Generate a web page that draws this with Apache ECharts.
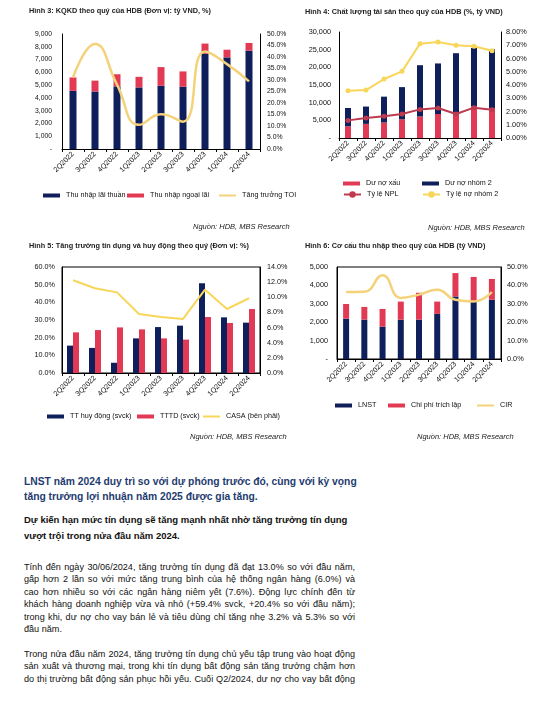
<!DOCTYPE html>
<html><head><meta charset="utf-8">
<script src="https://cdn.jsdelivr.net/npm/echarts@6/dist/echarts.min.js"></script>
<style>
body{margin:0;background:#fff;width:555px;height:707px;overflow:hidden;position:relative;font-family:'Liberation Sans',Arial,sans-serif;}
#c{position:absolute;left:0;top:0;width:555px;height:450px;}
.l{position:absolute;left:24px;width:331px;white-space:nowrap;color:#111;}
.j{text-align:justify;text-align-last:justify;white-space:normal;}
.h1{font-weight:bold;color:#1F3C70;font-size:10.3px;line-height:14px;}
.h2{font-weight:bold;font-size:9.5px;line-height:13px;}
.p{font-size:9.1px;line-height:12px;}
</style></head><body>
<div id="c"></div>
<div class="l h1" style="top:475px">LNST năm 2024 duy trì so với dự phóng trước đó, cùng với kỳ vọng</div>
<div class="l h1" style="top:490px">tăng trưởng lợi nhuận năm 2025 được gia tăng.</div>
<div class="l h2" style="top:513px">Dự kiến hạn mức tín dụng sẽ tăng mạnh nhất nhờ tăng trưởng tín dụng</div>
<div class="l h2" style="top:529px">vượt trội trong nửa đầu năm 2024.</div>
<div class="l p j" style="top:561px">Tính đến ngày 30/06/2024, tăng trưởng tín dụng đã đạt 13.0% so với đầu năm,</div>
<div class="l p j" style="top:573.4px">gấp hơn 2 lần so với mức tăng trung bình của hệ thống ngân hàng (6.0%) và</div>
<div class="l p j" style="top:585.8px">cao hơn nhiều so với các ngân hàng niêm yết (7.6%). Động lực chính đến từ</div>
<div class="l p j" style="top:598.2px">khách hàng doanh nghiệp vừa và nhỏ (+59.4% svck, +20.4% so với đầu năm);</div>
<div class="l p j" style="top:610.6px">trong khi, dư nợ cho vay bán lẻ và tiêu dùng chỉ tăng nhẹ 3.2% và 5.3% so với</div>
<div class="l p" style="top:623px">đầu năm.</div>
<div class="l p j" style="top:648px">Trong nửa đầu năm 2024, tăng trưởng tín dụng chủ yếu tập trung vào hoạt động</div>
<div class="l p j" style="top:660.4px">sản xuất và thương mại, trong khi tín dụng bất động sản tăng trưởng chậm hơn</div>
<div class="l p j" style="top:672.8px">do thị trường bất động sản phục hồi yếu. Cuối Q2/2024, dư nợ cho vay bất động</div>
<script>
const categories = ['2Q2022','3Q2022','4Q2022','1Q2023','2Q2023','3Q2023','4Q2023','1Q2024','2Q2024'];
// Chart 1 (tỷ VND, %)
const netInterestIncome = [4550, 4500, 4900, 4820, 4950, 4870, 7460, 7170, 7700];
const nonInterestIncome = [1050, 850, 950, 830, 1460, 1200, 790, 600, 600];
const toiGrowth = [31.1, 45.6, 28.0, 10.5, 15.1, 11.9, 42.4, 36.9, 29.4];
// Chart 2
const badDebt = [3300, 4000, 4400, 5300, 6100, 6800, 7200, 9000, 8500];
const group2Debt = [5200, 4900, 7300, 9100, 14500, 14300, 16800, 16500, 16600];
const nplRatio = [1.33, 1.51, 1.64, 1.81, 2.16, 2.26, 1.81, 2.29, 2.14];
const group2Ratio = [3.57, 3.62, 4.45, 5.03, 7.12, 7.25, 7.00, 6.92, 6.59];
// Chart 3 (%)
const depositGrowth = [15.5, 14.2, 5.8, 19.6, 26.0, 26.8, 50.8, 31.5, 28.5];
const creditGrowth = [23.0, 24.3, 25.8, 24.7, 19.6, 18.9, 31.7, 28.3, 36.2];
const casa = [12.25, 11.2, 10.65, 7.8, 7.4, 7.14, 11.0, 8.45, 9.87];
// Chart 4
const profitAfterTax = [2190, 2140, 1760, 2140, 2140, 2450, 3400, 3100, 3220];
const provisionCost = [800, 690, 960, 980, 1460, 670, 1270, 1360, 1130];
const cir = [36.4, 36.5, 45.5, 33.2, 35.0, 37.7, 32.2, 31.3, 36.4];

const NAVY = '#0E1F5B', RED = '#E23A55', YEL = '#F4D27A', YEL2 = '#F7D65A', DRED = '#BE3A4E';
const FONT = "'Liberation Sans', Arial, sans-serif";
const comma = v => v === 0 ? '-' : v.toLocaleString('en-US');
const pct = d => v => v.toFixed(d) + '%';

function yAxis(grid, max, interval, fmt, pos, margin, fs) {
  return {type:'value', gridIndex:grid, min:0, max:max, interval:interval, position:pos,
    axisLine:{show:true, lineStyle:{color:'#000', width:1}}, axisTick:{show:false}, splitLine:{show:false},
    axisLabel:{formatter:fmt, fontSize:fs, color:'#111', margin:margin, fontFamily:FONT}};
}
function xAxis(grid, fs) {
  return {type:'category', gridIndex:grid, data:categories,
    axisLine:{lineStyle:{color:'#000', width:1}}, axisTick:{show:true, length:3, lineStyle:{color:'#000'}},
    axisLabel:{rotate:45, fontSize:fs, color:'#111', margin:4, interval:0, fontFamily:FONT}};
}
// kind: 'bar' (rect), 'line' (plain line), 'mark' (line with marker)
function leg(name, left, top, kind) {
  const o = {data:[name], left:left, top:top, itemWidth:17, itemGap:0, padding:0,
    textStyle:{fontSize:7.2, color:'#111', fontFamily:FONT, padding:[0,0,0,1]}, selectedMode:false};
  if (kind === 'mark') { o.itemHeight = 8; }
  else if (kind === 'line') { o.icon = 'rect'; o.itemHeight = 2; }
  else { o.icon = 'rect'; o.itemHeight = 4; }
  return o;
}
const titleStyle = {fontSize:7.3, fontWeight:'bold', fill:'#222', fontFamily:FONT};
const srcStyle = {fontSize:7.5, fontStyle:'italic', fill:'#222', fontFamily:FONT};
function txt(x, y, s, st) { return {type:'text', left:x, top:y, style:Object.assign({text:s}, st)}; }

const option = {
  animation:false,
  textStyle:{fontFamily:FONT},
  grid:[
    {left:62, top:34, width:198, height:115},
    {left:339, top:32, width:162, height:106},
    {left:62, top:267, width:198, height:106, show:true, borderColor:'#000', borderWidth:1},
    {left:337, top:267, width:164, height:92, show:true, borderColor:'#000', borderWidth:1}
  ],
  xAxis:[xAxis(0,7.2), xAxis(1,7.2), xAxis(2,7.2), xAxis(3,7.2)],
  yAxis:[
    yAxis(0, 9000, 1000, comma, 'left', 10, 6.8),
    yAxis(0, 50, 5, pct(1), 'right', 7, 6.8),
    yAxis(1, 30000, 5000, comma, 'left', 8, 7.3),
    yAxis(1, 8, 1, pct(2), 'right', 5, 7.3),
    yAxis(2, 60, 10, pct(1), 'left', 7, 7.2),
    yAxis(2, 14, 2, pct(1), 'right', 7, 7.2),
    yAxis(3, 5000, 1000, comma, 'left', 9, 7.3),
    yAxis(3, 50, 10, pct(1), 'right', 6, 7.3)
  ],
  legend:[
    leg('Thu nhập lãi thuần', 43, 192, 'bar'),
    leg('Thu nhập ngoại lãi', 127, 192, 'bar'),
    leg('Tăng trưởng TOI', 219, 192, 'line'),
    leg('Dư nợ xấu', 343, 180, 'bar'),
    leg('Dư nợ nhóm 2', 422, 180, 'bar'),
    leg('Tỷ lệ NPL', 343, 191, 'mark'),
    leg('Tỷ lệ nợ nhóm 2', 422, 191, 'mark'),
    leg('TT huy động (svck)', 47, 413, 'bar'),
    leg('TTTD (svck)', 137, 413, 'bar'),
    leg('CASA (bên phải)', 203, 413, 'line'),
    leg('LNST', 335, 402, 'bar'),
    leg('Chi phí trích lập', 388, 402, 'bar'),
    leg('CIR', 477, 402, 'line')
  ],
  series:[
    {name:'Thu nhập lãi thuần', type:'bar', stack:'a', xAxisIndex:0, yAxisIndex:0, data:netInterestIncome, barWidth:7, itemStyle:{color:NAVY}},
    {name:'Thu nhập ngoại lãi', type:'bar', stack:'a', xAxisIndex:0, yAxisIndex:0, data:nonInterestIncome, barWidth:7, itemStyle:{color:RED}},
    {name:'Tăng trưởng TOI', type:'line', smooth:0.5, symbol:'none', xAxisIndex:0, yAxisIndex:1, data:toiGrowth, lineStyle:{color:YEL, width:2.5}, itemStyle:{color:YEL}},

    {name:'Dư nợ xấu', type:'bar', stack:'b', xAxisIndex:1, yAxisIndex:2, data:badDebt, barWidth:6, itemStyle:{color:RED}},
    {name:'Dư nợ nhóm 2', type:'bar', stack:'b', xAxisIndex:1, yAxisIndex:2, data:group2Debt, barWidth:6, itemStyle:{color:NAVY}},
    {name:'Tỷ lệ NPL', type:'line', symbol:'circle', symbolSize:5, xAxisIndex:1, yAxisIndex:3, data:nplRatio, lineStyle:{color:DRED, width:2}, itemStyle:{color:DRED}},
    {name:'Tỷ lệ nợ nhóm 2', type:'line', symbol:'circle', symbolSize:5, xAxisIndex:1, yAxisIndex:3, data:group2Ratio, lineStyle:{color:YEL2, width:2}, itemStyle:{color:YEL2}},

    {name:'TT huy động (svck)', type:'bar', xAxisIndex:2, yAxisIndex:4, data:depositGrowth, barWidth:6, barGap:'0%', itemStyle:{color:NAVY}},
    {name:'TTTD (svck)', type:'bar', xAxisIndex:2, yAxisIndex:4, data:creditGrowth, barWidth:6, barGap:'0%', itemStyle:{color:RED}},
    {name:'CASA (bên phải)', type:'line', symbol:'none', xAxisIndex:2, yAxisIndex:5, data:casa, lineStyle:{color:YEL2, width:2}, itemStyle:{color:YEL2}},

    {name:'LNST', type:'bar', stack:'d', xAxisIndex:3, yAxisIndex:6, data:profitAfterTax, barWidth:6, itemStyle:{color:NAVY}},
    {name:'Chi phí trích lập', type:'bar', stack:'d', xAxisIndex:3, yAxisIndex:6, data:provisionCost, barWidth:6, itemStyle:{color:RED}},
    {name:'CIR', type:'line', smooth:0.5, symbol:'none', xAxisIndex:3, yAxisIndex:7, data:cir, lineStyle:{color:YEL, width:2.5}, itemStyle:{color:YEL}}
  ],
  graphic:[
    txt(29, 7, 'Hình 3: KQKD theo quý của HDB (Đơn vị: tỷ VND, %)', titleStyle),
    txt(305, 8, 'Hình 4: Chất lượng tài sản theo quý của HDB (%, tỷ VND)', titleStyle),
    txt(29, 242, 'Hình 5: Tăng trưởng tín dụng và huy động theo quý (Đơn vị: %)', titleStyle),
    txt(305, 242, 'Hình 6: Cơ cấu thu nhập theo quý của HDB (tỷ VND)', titleStyle),
    txt(193, 223, 'Nguồn: HDB, MBS Research', srcStyle),
    txt(428, 224, 'Nguồn: HDB, MBS Research', srcStyle),
    txt(190, 433, 'Nguồn: HDB, MBS Research', srcStyle),
    txt(417, 433, 'Nguồn: HDB, MBS Research', srcStyle)
  ]
};
const chart = echarts.init(document.getElementById('c'), null, {renderer:'canvas'});
chart.setOption(option);
</script>
</body></html>
